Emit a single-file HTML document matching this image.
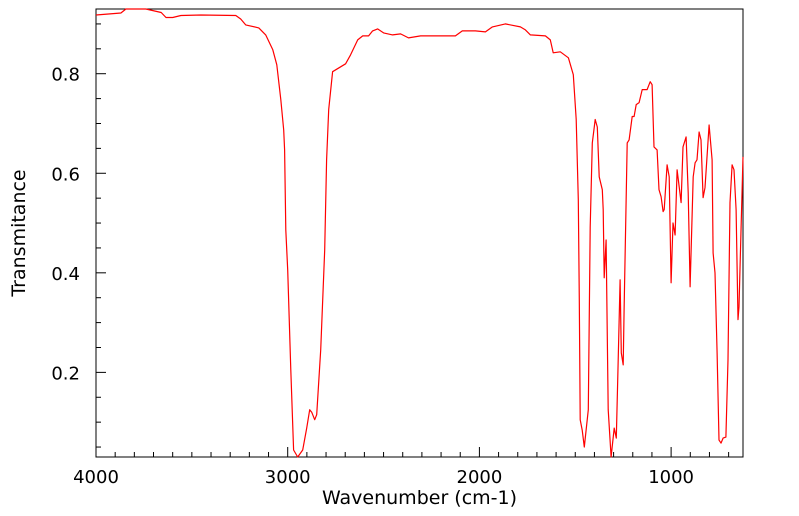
<!DOCTYPE html>
<html><head><meta charset="utf-8"><style>
html,body{margin:0;padding:0;background:#fff;}
svg{display:block;font-family:"DejaVu Sans","Liberation Sans",sans-serif;}
</style></head><body>
<svg id="chart" width="799" height="516" viewBox="0 0 799 516"></svg>
<script>
const wavenumbers=[4000,3870,3844,3740,3660,3635,3600,3557,3453,3271,3245,3219,3151,3115,3078,3057,3036,3021,3016,3010,3000,2984,2969,2948,2922,2901,2885,2875,2859,2849,2828,2807,2797,2786,2766,2698,2672,2635,2609,2578,2557,2531,2500,2453,2411,2370,2307,2203,2125,2089,2021,1969,1932,1865,1786,1760,1734,1656,1630,1615,1578,1536,1510,1495,1484,1479,1474,1464,1453,1432,1422,1411,1396,1385,1375,1359,1354,1349,1339,1328,1313,1297,1286,1276,1266,1260,1250,1245,1229,1219,1203,1193,1182,1167,1151,1125,1109,1099,1089,1073,1063,1052,1042,1036,1021,1010,1000,990,979,969,948,938,922,911,901,885,875,865,854,844,833,823,802,786,781,771,760,750,740,729,714,703,693,682,672,661,651,646,635,625];
const transmittance=[0.918,0.922,0.93,0.93,0.923,0.913,0.913,0.917,0.918,0.917,0.91,0.898,0.892,0.878,0.848,0.818,0.748,0.687,0.647,0.486,0.406,0.205,0.044,0.03,0.044,0.088,0.125,0.12,0.105,0.115,0.245,0.446,0.627,0.728,0.804,0.82,0.838,0.868,0.876,0.876,0.886,0.89,0.882,0.878,0.88,0.872,0.876,0.876,0.876,0.886,0.886,0.884,0.894,0.9,0.894,0.888,0.878,0.876,0.868,0.842,0.844,0.832,0.798,0.708,0.547,0.346,0.105,0.084,0.05,0.125,0.492,0.661,0.708,0.693,0.593,0.567,0.527,0.39,0.466,0.125,0.03,0.088,0.068,0.225,0.386,0.239,0.215,0.326,0.661,0.667,0.714,0.714,0.738,0.742,0.768,0.768,0.784,0.778,0.653,0.647,0.567,0.553,0.523,0.527,0.617,0.593,0.38,0.5,0.476,0.607,0.541,0.653,0.673,0.561,0.372,0.593,0.621,0.627,0.683,0.667,0.551,0.571,0.697,0.627,0.44,0.4,0.239,0.064,0.058,0.068,0.07,0.225,0.541,0.617,0.607,0.527,0.306,0.332,0.492,0.633];
const xTickLabels=[4000,3000,2000,1000];
const yTickLabels=[0.2,0.4,0.6,0.8];
const NS="http://www.w3.org/2000/svg";
const svg=document.getElementById('chart');
const L=96,R=743,T=9,B=457;
const X0=4000,X1=625,Y0=0.03,Y1=0.93;
const xs=v=>L+(X0-v)/(X0-X1)*(R-L);
const ys=v=>B-(v-Y0)/(Y1-Y0)*(B-T);
function mk(tag,attrs){const e=document.createElementNS(NS,tag);for(const k in attrs)e.setAttribute(k,attrs[k]);svg.appendChild(e);return e;}
const frame=mk('rect',{x:L,y:T,width:R-L,height:B-T,fill:'none',stroke:'#000','stroke-width':1});


for(let w=4000;w>=X1;w-=100){
  const major=w%1000===0;const x=xs(w);
  const t=mk('line',{x1:x,x2:x,y1:B,y2:B-(major?10:5),stroke:'#000','stroke-width':1});
  
  
}
xTickLabels.forEach(v=>{
  const t=mk('text',{x:xs(v),y:B+26,'text-anchor':'middle','font-size':18,fill:'#000'});
  t.textContent=v;
  
  
});
for(let k=1;k<=18;k++){
  const v=k*0.05;if(v<Y0||v>Y1)continue;
  const major=k%4===0;const y=ys(v);
  const t=mk('line',{x1:L,x2:L+(major?10:5),y1:y,y2:y,stroke:'#000','stroke-width':1});
  
  
}
yTickLabels.forEach(v=>{
  const t=mk('text',{x:L-16,y:ys(v)+7,'text-anchor':'end','font-size':18,fill:'#000'});
  t.textContent=v.toFixed(1);
  
  
});
const xt=mk('text',{x:(L+R)/2,y:504,'text-anchor':'middle','font-size':19,fill:'#000'});
xt.textContent='Wavenumber (cm-1)';


const yt=mk('text',{x:0,y:0,'text-anchor':'middle','font-size':19,fill:'#000',transform:'translate(25,233) rotate(-90)'});
yt.textContent='Transmitance';


const pts=wavenumbers.map((w,i)=>xs(w).toFixed(1)+','+ys(transmittance[i]).toFixed(1)).join(' ');
const line=mk('polyline',{points:pts,fill:'none',stroke:'#ff0000','stroke-width':1.2,'stroke-linejoin':'round'});


</script>
</body></html>
